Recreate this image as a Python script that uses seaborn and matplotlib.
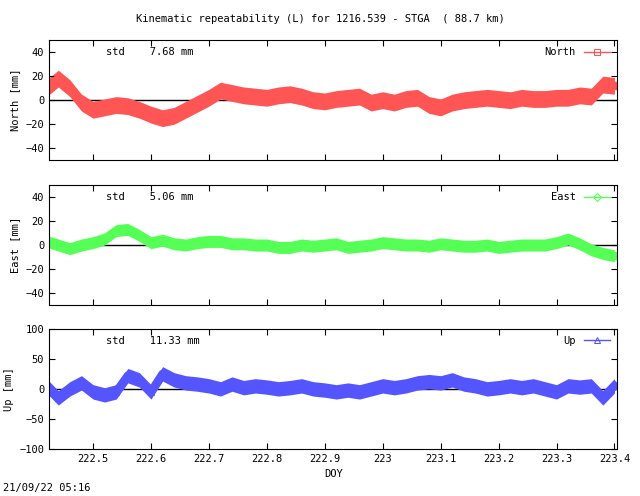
import matplotlib
matplotlib.use("Agg")
import matplotlib.pyplot as plt
import seaborn as sns
import pandas as pd

doy = [222.42, 222.44, 222.46, 222.48, 222.50, 222.52, 222.54, 222.56, 222.58, 222.60,
       222.62, 222.64, 222.66, 222.68, 222.70, 222.72, 222.74, 222.76, 222.78, 222.80,
       222.82, 222.84, 222.86, 222.88, 222.90, 222.92, 222.94, 222.96, 222.98, 223.00,
       223.02, 223.04, 223.06, 223.08, 223.10, 223.12, 223.14, 223.16, 223.18, 223.20,
       223.22, 223.24, 223.26, 223.28, 223.30, 223.32, 223.34, 223.36, 223.38, 223.40]
north = [10, 18, 10, -2, -8, -6, -4, -5, -8, -12, -15, -13, -8, -3, 2, 8, 6, 4, 3, 2,
         4, 5, 3, 0, -1, 1, 2, 3, -2, 0, -2, 1, 2, -4, -6, -2, 0, 1, 2, 1,
         0, 2, 1, 1, 2, 2, 4, 3, 13, 12]
east = [3, 0, -3, 0, 2, 5, 12, 13, 8, 2, 4, 1, 0, 2, 3, 3, 1, 1, 0, 0,
        -2, -2, 0, -1, 0, 1, -2, -1, 0, 2, 1, 0, 0, -1, 1, 0, -1, -1, 0, -2,
        -1, 0, 0, 0, 2, 5, 1, -4, -7, -9]
up = [5, -15, 0, 10, -5, -10, -5, 22, 15, -5, 25, 15, 10, 8, 5, 0, 8, 2, 5, 3,
      0, 2, 5, 0, -2, -5, -2, -5, 0, 5, 2, 5, 10, 12, 10, 15, 8, 5, 0, 2,
      5, 2, 5, 0, -5, 5, 3, 5, -15, 5]
spread = {"North": 7, "East": 5, "Up": 12}
stds = {"North": "7.68", "East": "5.06", "Up": "11.33"}
xticks = [222.5, 222.6, 222.7, 222.8, 222.9, 223, 223.1, 223.2, 223.3, 223.4]
xticklabels = ["222.5", "222.6", "222.7", "222.8", "222.9", "223", "223.1", "223.2", "223.3", "223.4"]

plt.rcParams["font.family"] = "DejaVu Sans Mono"
plt.rcParams["font.size"] = 7.5

fig = plt.figure(figsize=(6.4, 4.96), dpi=100)
panels = [
    ("North", north, "#ff5555", "s", [-40, -20, 0, 20, 40], (-50, 50), 0.677, "North [mm]"),
    ("East", east, "#55ff55", "D", [-40, -20, 0, 20, 40], (-50, 50), 0.385, "East [mm]"),
    ("Up", up, "#5555ff", "^", [-100, -50, 0, 50, 100], (-100, 100), 0.095, "Up [mm]"),
]
for name, vals, color, mk, yt, ylim, bottom, ylabel in panels:
    ax = fig.add_axes([0.0766, bottom, 0.888, 0.242])
    df = pd.DataFrame({"doy": doy, "val": vals})
    s = spread[name]
    ax.fill_between(df["doy"], df["val"] - s, df["val"] + s, color=color, lw=0)
    sns.lineplot(data=df, x="doy", y="val", ax=ax, color=color, lw=6, marker=mk,
                 markersize=4, markerfacecolor="none", markeredgecolor=color, label=name)
    ax.axhline(0, color="black", lw=1, zorder=0.5)
    ax.set_xlim(222.424, 223.405)
    ax.set_ylim(*ylim)
    ax.set_yticks(yt)
    ax.set_xticks(xticks)
    ax.tick_params(direction="in", top=True, right=True, length=4)
    if name == "Up":
        ax.set_xticklabels(xticklabels)
        ax.set_xlabel("DOY")
    else:
        ax.set_xticklabels([])
        ax.set_xlabel("")
    ax.set_ylabel(ylabel)
    ax.text(0.1, 0.9, f"std    {stds[name]} mm", transform=ax.transAxes, va="center")
    leg = ax.legend(loc="upper right", frameon=False, handlelength=2.5, borderaxespad=0.3,
                    markerfirst=False)
    for h in leg.get_lines():
        h.set_linewidth(1)

fig.text(0.5, 0.955, "Kinematic repeatability (L) for 1216.539 - STGA  ( 88.7 km)", ha="center")
fig.text(0.005, 0.01, "21/09/22 05:16")
fig.savefig("out.png", dpi=100)
